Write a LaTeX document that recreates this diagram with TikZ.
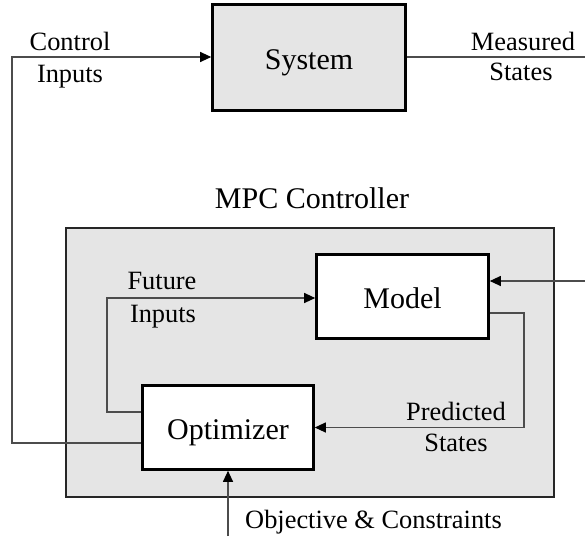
\documentclass[tikz,border=0pt]{standalone}
\usepackage{fontspec}
\setmainfont{Liberation Serif}
\usetikzlibrary{arrows.meta}
\begin{document}
\begin{tikzpicture}[x=1pt,y=-1pt,
  boxtxt/.style={font=\fontsize{30}{36}\selectfont},
  lbl/.style={font=\fontsize{26.4}{30}\selectfont, anchor=base, inner sep=0pt},
  block/.style={draw=black, line width=2.6pt, boxtxt, text height=24pt, text depth=0pt, inner sep=0pt},
  conn/.style={draw=black!70, line width=1.1pt},
  arr/.style={conn, -{Triangle[length=11pt,width=10pt,black]}}
]
\useasboundingbox (0,0) rectangle (585,543);
% MPC controller frame
\node[draw=black!85, line width=1.6pt, fill=black!10, minimum width=488pt, minimum height=269pt, inner sep=0pt] (mpc) at (310,362.5) {};
\node[lbl, font=\fontsize{30}{36}\selectfont] (mpclbl) at (312,208) {MPC Controller};
% blocks
\node[block, fill=black!10, minimum width=193pt, minimum height=106pt] (sys) at (309,57.5) {System};
\node[block, fill=white, minimum width=172pt, minimum height=84pt] (model) at (402.5,296.5) {Model};
\node[block, fill=white, minimum width=171pt, minimum height=84pt] (opt) at (228,427.5) {Optimizer};
% coordinates
\coordinate (ctop) at (12,57);
\coordinate (cbot) at (12,443);
\coordinate (fbot) at (107,412);
\coordinate (ftop) at (107,298);
\coordinate (msout) at (585,57);
\coordinate (minp) at (585,281);
\coordinate (pcorner) at (524,313);
\coordinate (pbot) at (524,427.5);
\coordinate (obj) at (228,536);
% connectors
\draw[conn] (sys.east |- msout) -- (msout);
\draw[arr] (opt.west |- cbot) -- (cbot) -- (ctop) -- (sys.west |- ctop);
\draw[arr] (opt.west |- fbot) -- (fbot) -- (ftop) -- (model.west |- ftop);
\draw[arr] (minp) -- (model.east |- minp);
\draw[arr] (model.east |- pcorner) -- (pcorner) -- (pbot) -- (opt.east |- pbot);
\draw[arr] (obj) -- (opt.south);
% labels
\node[lbl] (ctl1) at (70,50) {Control};
\node[lbl] (ctl2) at (70,82) {Inputs};
\node[lbl] (ms1) at (523,50) {Measured};
\node[lbl] (ms2) at (521,80) {States};
\node[lbl] (fu1) at (162,289) {Future};
\node[lbl] (fu2) at (163,322) {Inputs};
\node[lbl] (pr1) at (456,420) {Predicted};
\node[lbl] (pr2) at (456,451) {States};
\node[lbl] (oc) at (373.5,528) {Objective \& Constraints};
\end{tikzpicture}
\end{document}
